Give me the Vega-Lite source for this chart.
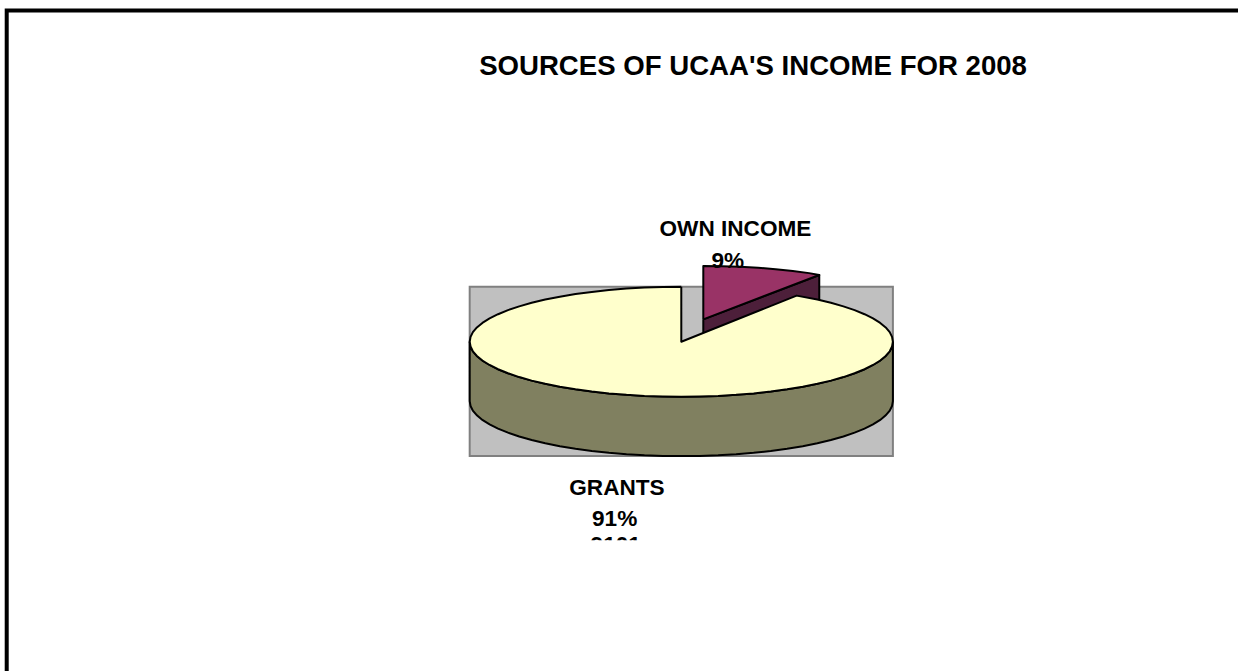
{
  "$schema": "https://vega.github.io/schema/vega-lite/v6.json",
  "width": 1238,
  "height": 671,
  "padding": 0,
  "autosize": "none",
  "background": "white",
  "view": {"stroke": null},
  "datasets": {
    "frame": [{"x": -318.8, "x2": 300, "y": 602.2, "y2": -700}],
    "plotArea": [{"x": -100, "x2": 100, "y": 100, "y2": -208}],
    "ownIncome": [
      {"part": "own side", "seq": 1, "x": 10.4, "y": 40.7},
      {"part": "own side", "seq": 2, "x": 10.4, "y": -67.3},
      {"part": "own side", "seq": 3, "x": 65.2, "y": 13.3},
      {"part": "own side", "seq": 4, "x": 65.2, "y": 121.3},
      {"part": "own side", "seq": 5, "x": 10.4, "y": 40.7},
      {"part": "own top", "seq": 1, "x": 10.4, "y": 40.7},
      {"part": "own top", "seq": 2, "x": 10.4, "y": 137.6},
      {"part": "own top", "seq": 3, "x": 19.1, "y": 137.3},
      {"part": "own top", "seq": 4, "x": 27.8, "y": 136.2},
      {"part": "own top", "seq": 5, "x": 36.3, "y": 134.4},
      {"part": "own top", "seq": 6, "x": 44.6, "y": 131.9},
      {"part": "own top", "seq": 7, "x": 52.7, "y": 128.6},
      {"part": "own top", "seq": 8, "x": 60.4, "y": 124.7},
      {"part": "own top", "seq": 9, "x": 65.2, "y": 121.3},
      {"part": "own top", "seq": 10, "x": 10.4, "y": 40.7}
    ],
    "rim": [
      {"x": -100, "y": 0, "y2": -108},
      {"x": -99.6, "y": -8.7, "y2": -116.7},
      {"x": -98.5, "y": -17.4, "y2": -125.4},
      {"x": -96.6, "y": -25.9, "y2": -133.9},
      {"x": -94, "y": -34.2, "y2": -142.2},
      {"x": -90.6, "y": -42.3, "y2": -150.3},
      {"x": -86.6, "y": -50, "y2": -158},
      {"x": -81.9, "y": -57.4, "y2": -165.4},
      {"x": -76.6, "y": -64.3, "y2": -172.3},
      {"x": -70.7, "y": -70.7, "y2": -178.7},
      {"x": -64.3, "y": -76.6, "y2": -184.6},
      {"x": -57.4, "y": -81.9, "y2": -189.9},
      {"x": -50, "y": -86.6, "y2": -194.6},
      {"x": -42.3, "y": -90.6, "y2": -198.6},
      {"x": -34.2, "y": -94, "y2": -202},
      {"x": -25.9, "y": -96.6, "y2": -204.6},
      {"x": -17.4, "y": -98.5, "y2": -206.5},
      {"x": -8.7, "y": -99.6, "y2": -207.6},
      {"x": 0, "y": -100, "y2": -208},
      {"x": 8.7, "y": -99.6, "y2": -207.6},
      {"x": 17.4, "y": -98.5, "y2": -206.5},
      {"x": 25.9, "y": -96.6, "y2": -204.6},
      {"x": 34.2, "y": -94, "y2": -202},
      {"x": 42.3, "y": -90.6, "y2": -198.6},
      {"x": 50, "y": -86.6, "y2": -194.6},
      {"x": 57.4, "y": -81.9, "y2": -189.9},
      {"x": 64.3, "y": -76.6, "y2": -184.6},
      {"x": 70.7, "y": -70.7, "y2": -178.7},
      {"x": 76.6, "y": -64.3, "y2": -172.3},
      {"x": 81.9, "y": -57.4, "y2": -165.4},
      {"x": 86.6, "y": -50, "y2": -158},
      {"x": 90.6, "y": -42.3, "y2": -150.3},
      {"x": 94, "y": -34.2, "y2": -142.2},
      {"x": 96.6, "y": -25.9, "y2": -133.9},
      {"x": 98.5, "y": -17.4, "y2": -125.4},
      {"x": 99.6, "y": -8.7, "y2": -116.7},
      {"x": 100, "y": 0, "y2": -108}
    ],
    "grantsTop": [
      {"seq": 1, "x": 0, "y": 100},
      {"seq": 2, "x": -8.7, "y": 99.6},
      {"seq": 3, "x": -17.4, "y": 98.5},
      {"seq": 4, "x": -25.9, "y": 96.6},
      {"seq": 5, "x": -34.2, "y": 94},
      {"seq": 6, "x": -42.3, "y": 90.6},
      {"seq": 7, "x": -50, "y": 86.6},
      {"seq": 8, "x": -57.4, "y": 81.9},
      {"seq": 9, "x": -64.3, "y": 76.6},
      {"seq": 10, "x": -70.7, "y": 70.7},
      {"seq": 11, "x": -76.6, "y": 64.3},
      {"seq": 12, "x": -81.9, "y": 57.4},
      {"seq": 13, "x": -86.6, "y": 50},
      {"seq": 14, "x": -90.6, "y": 42.3},
      {"seq": 15, "x": -94, "y": 34.2},
      {"seq": 16, "x": -96.6, "y": 25.9},
      {"seq": 17, "x": -98.5, "y": 17.4},
      {"seq": 18, "x": -99.6, "y": 8.7},
      {"seq": 19, "x": -100, "y": 0},
      {"seq": 20, "x": -99.6, "y": -8.7},
      {"seq": 21, "x": -98.5, "y": -17.4},
      {"seq": 22, "x": -96.6, "y": -25.9},
      {"seq": 23, "x": -94, "y": -34.2},
      {"seq": 24, "x": -90.6, "y": -42.3},
      {"seq": 25, "x": -86.6, "y": -50},
      {"seq": 26, "x": -81.9, "y": -57.4},
      {"seq": 27, "x": -76.6, "y": -64.3},
      {"seq": 28, "x": -70.7, "y": -70.7},
      {"seq": 29, "x": -64.3, "y": -76.6},
      {"seq": 30, "x": -57.4, "y": -81.9},
      {"seq": 31, "x": -50, "y": -86.6},
      {"seq": 32, "x": -42.3, "y": -90.6},
      {"seq": 33, "x": -34.2, "y": -94},
      {"seq": 34, "x": -25.9, "y": -96.6},
      {"seq": 35, "x": -17.4, "y": -98.5},
      {"seq": 36, "x": -8.7, "y": -99.6},
      {"seq": 37, "x": 0, "y": -100},
      {"seq": 38, "x": 8.7, "y": -99.6},
      {"seq": 39, "x": 17.4, "y": -98.5},
      {"seq": 40, "x": 25.9, "y": -96.6},
      {"seq": 41, "x": 34.2, "y": -94},
      {"seq": 42, "x": 42.3, "y": -90.6},
      {"seq": 43, "x": 50, "y": -86.6},
      {"seq": 44, "x": 57.4, "y": -81.9},
      {"seq": 45, "x": 64.3, "y": -76.6},
      {"seq": 46, "x": 70.7, "y": -70.7},
      {"seq": 47, "x": 76.6, "y": -64.3},
      {"seq": 48, "x": 81.9, "y": -57.4},
      {"seq": 49, "x": 86.6, "y": -50},
      {"seq": 50, "x": 90.6, "y": -42.3},
      {"seq": 51, "x": 94, "y": -34.2},
      {"seq": 52, "x": 96.6, "y": -25.9},
      {"seq": 53, "x": 98.5, "y": -17.4},
      {"seq": 54, "x": 99.6, "y": -8.7},
      {"seq": 55, "x": 100, "y": 0},
      {"seq": 56, "x": 99.6, "y": 8.7},
      {"seq": 57, "x": 98.5, "y": 17.4},
      {"seq": 58, "x": 96.6, "y": 25.9},
      {"seq": 59, "x": 94, "y": 34.2},
      {"seq": 60, "x": 90.6, "y": 42.3},
      {"seq": 61, "x": 86.6, "y": 50},
      {"seq": 62, "x": 81.9, "y": 57.4},
      {"seq": 63, "x": 76.6, "y": 64.3},
      {"seq": 64, "x": 70.7, "y": 70.7},
      {"seq": 65, "x": 64.3, "y": 76.6},
      {"seq": 66, "x": 54.5, "y": 83.8},
      {"seq": 67, "x": 0, "y": 0},
      {"seq": 68, "x": 0, "y": 100}
    ],
    "labels": [
      {"text": "SOURCES OF UCAA'S INCOME FOR 2008", "x": 33.9, "y": 485, "kind": "title"},
      {"text": "OWN INCOME", "x": 25.6, "y": 193, "kind": "label"},
      {"text": "9%", "x": 22, "y": 134, "kind": "label"},
      {"text": "GRANTS", "x": -30.4, "y": -278.7, "kind": "label"},
      {"text": "91%", "x": -31.5, "y": -335, "kind": "label"},
      {"text": "9101", "x": -31, "y": -382, "kind": "label"}
    ],
    "cover": [{"x": -50, "x2": -12, "y": -361, "y2": -400}]
  },
  "layer": [
    {
      "data": {"name": "frame"},
      "mark": {"type": "rect", "fill": null, "stroke": "black", "strokeWidth": 4, "clip": true},
      "encoding": {
        "x": {"field": "x", "type": "quantitative", "scale": {"domain": [-321.97, 263.09], "nice": false, "zero": false}, "axis": null},
        "x2": {"field": "x2"},
        "y": {"field": "y", "type": "quantitative", "scale": {"domain": [-598.7, 621.3], "nice": false, "zero": false}, "axis": null},
        "y2": {"field": "y2"}
      }
    },
    {
      "data": {"name": "plotArea"},
      "mark": {"type": "rect", "fill": "#c0c0c0", "stroke": "#808080", "strokeWidth": 2},
      "encoding": {
        "x": {"field": "x", "type": "quantitative"},
        "x2": {"field": "x2"},
        "y": {"field": "y", "type": "quantitative"},
        "y2": {"field": "y2"}
      }
    },
    {
      "data": {"name": "ownIncome"},
      "mark": {"type": "line", "stroke": "black", "strokeWidth": 2, "strokeJoin": "round"},
      "encoding": {
        "x": {"field": "x", "type": "quantitative"},
        "y": {"field": "y", "type": "quantitative"},
        "order": {"field": "seq", "type": "quantitative"},
        "fill": {"field": "part", "type": "nominal", "scale": {"domain": ["own side", "own top"], "range": ["#4d1f3a", "#993366"]}, "legend": null}
      }
    },
    {
      "data": {"name": "rim"},
      "mark": {"type": "area", "fill": "#808060", "stroke": "black", "strokeWidth": 2},
      "encoding": {
        "x": {"field": "x", "type": "quantitative"},
        "y": {"field": "y", "type": "quantitative"},
        "y2": {"field": "y2"}
      }
    },
    {
      "data": {"name": "grantsTop"},
      "mark": {"type": "line", "fill": "#ffffcc", "stroke": "black", "strokeWidth": 2, "strokeJoin": "round"},
      "encoding": {
        "x": {"field": "x", "type": "quantitative"},
        "y": {"field": "y", "type": "quantitative"},
        "order": {"field": "seq", "type": "quantitative"}
      }
    },
    {
      "data": {"name": "labels"},
      "mark": {"type": "text", "font": "Liberation Sans", "fontWeight": "bold", "align": "center", "baseline": "alphabetic", "color": "black"},
      "encoding": {
        "x": {"field": "x", "type": "quantitative"},
        "y": {"field": "y", "type": "quantitative"},
        "text": {"field": "text"},
        "size": {"field": "kind", "type": "nominal", "scale": {"domain": ["title", "label"], "range": [27.6, 22.6]}, "legend": null}
      }
    },
    {
      "data": {"name": "cover"},
      "mark": {"type": "rect", "fill": "white"},
      "encoding": {
        "x": {"field": "x", "type": "quantitative"},
        "x2": {"field": "x2"},
        "y": {"field": "y", "type": "quantitative"},
        "y2": {"field": "y2"}
      }
    }
  ]
}
